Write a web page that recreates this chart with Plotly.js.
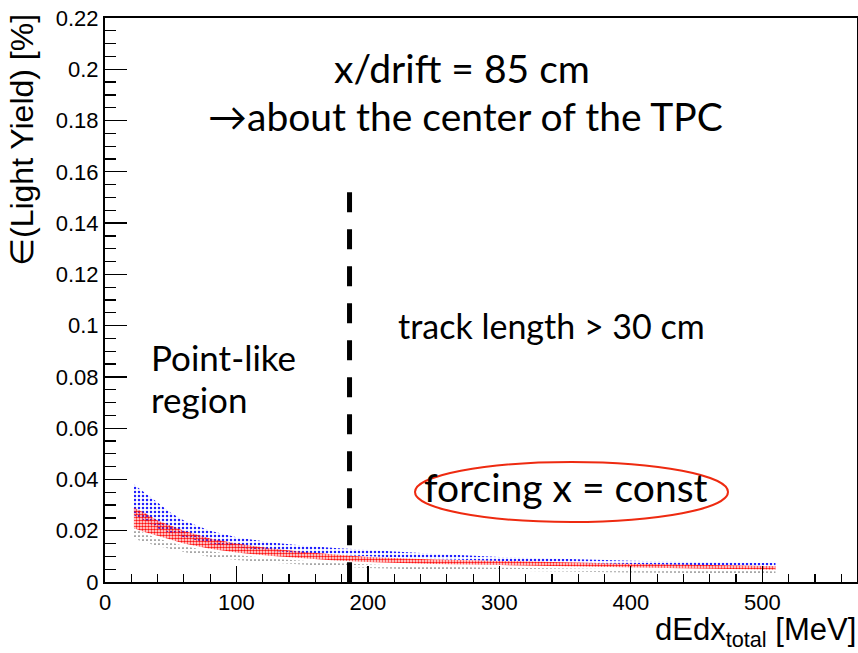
<!DOCTYPE html>
<html>
<head>
<meta charset="utf-8">
<script src="https://cdn.plot.ly/plotly-3.0.1.min.js"></script>
<style>
  html, body { margin: 0; padding: 0; background: #fff; }
  #chart { width: 858px; height: 653px; }
</style>
</head>
<body>
<div id="chart"></div>
<script>
// dE/dx total [MeV] sample points for the uncertainty bands
const dEdx = [22, 30, 40, 50, 60, 80, 100, 125, 150, 175, 200, 250, 300, 350, 400, 450, 510];

// Blue band (upper) limits, [%]
const blueHigh = [0.038, 0.035, 0.031, 0.027, 0.024, 0.020, 0.0175, 0.0155, 0.0142, 0.0133, 0.0125, 0.0110, 0.0098, 0.0090, 0.0083, 0.0078, 0.0074];
const blueLow  = [0.026, 0.024, 0.021, 0.019, 0.0175, 0.015, 0.0135, 0.0122, 0.0113, 0.0106, 0.0100, 0.0090, 0.0082, 0.0075, 0.0070, 0.0066, 0.0062];

// Red band (middle) limits, [%]
const redHigh = [0.029, 0.027, 0.024, 0.022, 0.020, 0.017, 0.0150, 0.0132, 0.0118, 0.0107, 0.0098, 0.0088, 0.0082, 0.0076, 0.0071, 0.0067, 0.0062];
const redLow  = [0.021, 0.0195, 0.018, 0.0165, 0.015, 0.013, 0.0115, 0.0102, 0.0092, 0.0084, 0.0078, 0.0070, 0.0066, 0.0061, 0.0057, 0.0053, 0.0048];

// Black band (lower) limits, [%]
const blackHigh = [0.021, 0.019, 0.017, 0.0155, 0.014, 0.012, 0.0105, 0.0092, 0.0082, 0.0074, 0.0068, 0.0060, 0.0056, 0.0052, 0.0048, 0.0045, 0.0042];
const blackLow  = [0.017, 0.0155, 0.014, 0.0128, 0.0117, 0.0098, 0.0086, 0.0076, 0.0067, 0.0060, 0.0055, 0.0048, 0.0044, 0.0040, 0.0037, 0.0035, 0.0033];

// Boundary between point-like region and long tracks
const cutDEdx = 186;
const cutTop = 0.152;

// Axis ranges
const xRange = [0, 572];
const yRange = [0, 0.22];

// Plot frame in pixels
const L = 105, R = 857, T = 18, B = 582;
const px = p => (p - L) / (R - L);
const py = p => (B - p) / (B - T);

function band(low, high, color, size, solidity) {
  return [
    { x: dEdx, y: low, type: 'scatter', mode: 'lines', line: { width: 0 },
      showlegend: false, hoverinfo: 'skip' },
    { x: dEdx, y: high, type: 'scatter', mode: 'lines', line: { width: 0 },
      fill: 'tonexty', fillcolor: 'rgba(0,0,0,0)',
      fillpattern: { shape: '.', fgcolor: color, bgcolor: 'rgba(0,0,0,0)', size: size, solidity: solidity },
      showlegend: false, hoverinfo: 'skip' }
  ];
}

const traces = [].concat(
  band(blackLow, blackHigh, '#666666', 4, 0.15),
  band(blueLow, blueHigh, '#2020ff', 4, 0.3),
  band(redLow, redHigh, '#ff1010', 3, 0.55)
);

const calibriLike = 'Lato, "Open Sans", sans-serif';
const helvLike = '"Liberation Sans", Arial, sans-serif';

const layout = {
  width: 858, height: 653,
  margin: { l: L, r: 858 - R, t: T, b: 653 - B, pad: 0 },
  paper_bgcolor: '#fff', plot_bgcolor: '#fff',
  showlegend: false,
  hovermode: false,
  xaxis: {
    range: xRange, dtick: 100, tick0: 0,
    ticks: 'inside', ticklen: 16, tickwidth: 1.2, tickcolor: '#000',
    minor: { dtick: 20, ticks: 'inside', ticklen: 8, tickwidth: 1.2, tickcolor: '#000' },
    showgrid: false, zeroline: false,
    showline: true, linecolor: '#000', linewidth: 2, mirror: true,
    tickfont: { family: helvLike, size: 22, color: '#000' }
  },
  yaxis: {
    range: yRange, dtick: 0.02, tick0: 0,
    ticks: 'inside', ticklen: 22, tickwidth: 1.2, tickcolor: '#000',
    minor: { dtick: 0.005, ticks: 'inside', ticklen: 11, tickwidth: 1.2, tickcolor: '#000' },
    showgrid: false, zeroline: false,
    showline: true, linecolor: '#000', linewidth: 2, mirror: true,
    tickfont: { family: helvLike, size: 22, color: '#000' }
  },
  shapes: [
    { type: 'line', xref: 'paper', yref: 'paper',
      x0: cutDEdx / xRange[1], x1: cutDEdx / xRange[1],
      y0: cutTop / yRange[1], y1: -0.023,
      line: { color: '#000', width: 5, dash: '20px,17px' } },
    { type: 'circle', xref: 'paper', yref: 'paper',
      x0: px(415), x1: px(728), y0: py(522), y1: py(462),
      line: { color: '#ee2a10', width: 2 }, fillcolor: 'rgba(0,0,0,0)' }
  ],
  annotations: [
    { text: '∈(Light Yield) [%]', textangle: -90, xref: 'paper', yref: 'paper',
      x: px(22), y: py(12), xanchor: 'center', yanchor: 'top', showarrow: false,
      font: { family: helvLike, size: 32, color: '#000' } },
    { text: 'dEdx<sub>total</sub> [MeV]', xref: 'paper', yref: 'paper',
      x: px(858), y: py(632), xanchor: 'right', yanchor: 'middle', showarrow: false,
      font: { family: helvLike, size: 31, color: '#000' } },
    { text: 'x/drift = 85 cm', xref: 'paper', yref: 'paper',
      x: px(462), y: py(68), xanchor: 'center', yanchor: 'middle', showarrow: false,
      font: { family: calibriLike, size: 39, color: '#000' } },
    { text: '→about the center of the TPC', xref: 'paper', yref: 'paper',
      x: px(465), y: py(116), xanchor: 'center', yanchor: 'middle', showarrow: false,
      font: { family: calibriLike, size: 39, color: '#000' } },
    { text: 'track length > 30 cm', xref: 'paper', yref: 'paper',
      x: px(551), y: py(325), xanchor: 'center', yanchor: 'middle', showarrow: false,
      font: { family: calibriLike, size: 34, color: '#000' } },
    { text: 'Point-like', xref: 'paper', yref: 'paper',
      x: px(149), y: py(357), xanchor: 'left', yanchor: 'middle', showarrow: false,
      font: { family: calibriLike, size: 35, color: '#000' } },
    { text: 'region', xref: 'paper', yref: 'paper',
      x: px(149), y: py(399), xanchor: 'left', yanchor: 'middle', showarrow: false,
      font: { family: calibriLike, size: 35, color: '#000' } },
    { text: 'forcing x = const', xref: 'paper', yref: 'paper',
      x: px(566), y: py(487), xanchor: 'center', yanchor: 'middle', showarrow: false,
      font: { family: calibriLike, size: 39, color: '#000' } }
  ]
};

Plotly.newPlot('chart', traces, layout, { staticPlot: true, displayModeBar: false });
</script>
</body>
</html>
